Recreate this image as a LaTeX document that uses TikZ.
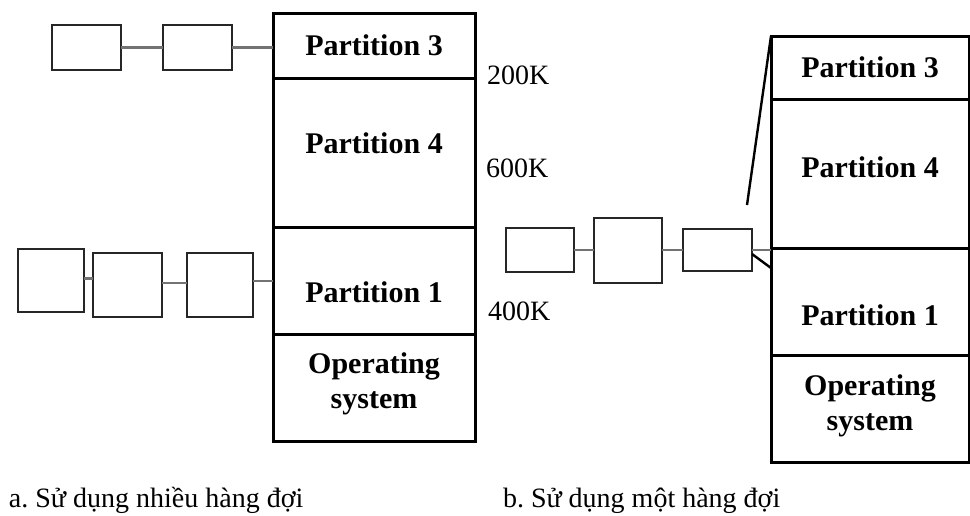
\documentclass[tikz,border=0pt]{standalone}
\usepackage{fontspec}
\setmainfont{Liberation Serif}
\usetikzlibrary{positioning}
\frenchspacing

\begin{document}
\begin{tikzpicture}[x=0.5pt, y=-0.5pt,
                    every node/.style = {text=black, inner sep=0pt, outer sep=0pt},
                    part/.style = {draw, line width=1.5pt},
                    ptext/.style = {align=center, font=\fontsize{15}{17.5}\selectfont\bfseries},
                    job/.style = {draw=black!85, line width=1pt},
                    link/.style = {draw=black!55, line width=1.1pt},
                    addr/.style = {anchor=west, font=\fontsize{14}{16}\selectfont},
                    capt/.style = {anchor=base west, font=\fontsize{14}{16}\selectfont}]
                \useasboundingbox (0,0) rectangle (970,515);
                % a. several queues
                \node (p3a) [part, minimum width=101pt, minimum height=32.5pt] at (374,45.5) {};
                \node (p4a) [part, minimum width=101pt, minimum height=74.5pt, below = 0pt of p3a] {};
                \node (p1a) [part, minimum width=101pt, minimum height=53.5pt, below = 0pt of p4a] {};
                \node (osa) [part, minimum width=101pt, minimum height=53.5pt, below = 0pt of p1a] {};
                \node (t3a) [ptext] at (p3a) {Partition 3};
                \node (t4a) [ptext, yshift=4.75pt] at (p4a) {Partition 4};
                \node (t1a) [ptext, yshift=-6pt] at (p1a) {Partition 1};
                \node (tosa) [ptext, yshift=2pt] at (osa) {Operating\\system};
                \node (qa1) [job, minimum width=34.5pt, minimum height=22.5pt] at (86.5,47.5) {};
                \node (qa2) [job, minimum width=34.5pt, minimum height=22.5pt, right = 21pt of qa1] {};
                \node (qb1) [job, minimum width=33pt, minimum height=31.5pt] at (51,280.5) {};
                \node (qb2) [job, minimum width=34.5pt, minimum height=32pt, right = 4.5pt of qb1, yshift=-2.25pt] {};
                \node (qb3) [job, minimum width=33pt, minimum height=32pt, right = 12.5pt of qb2] {};
                \draw [link] (qa1.east) -- (qa2.west);
                \draw [link] (qa2.east) -- (qa2.east -| p3a.west);
                \draw [link] ([yshift=1pt]qb1.east) -- ([yshift=1pt]qb1.east -| qb2.west);
                \draw [link] ([yshift=1pt]qb2.east) -- ([yshift=1pt]qb3.west);
                \draw [link] ([yshift=2pt]qb3.east) -- ([yshift=2pt]qb3.east -| p1a.west);
                \node (k200) [addr] at (487,75) {200K};
                \node (k600) [addr] at (486,168) {600K};
                \node (k400) [addr] at (488,311) {400K};
                % b. one queue
                \node (p3b) [part, minimum width=99pt, minimum height=31.5pt] at (870,67.5) {};
                \node (p4b) [part, minimum width=99pt, minimum height=74.5pt, below = 0pt of p3b] {};
                \node (p1b) [part, minimum width=99pt, minimum height=53.5pt, below = 0pt of p4b] {};
                \node (osb) [part, minimum width=99pt, minimum height=53.5pt, below = 0pt of p1b] {};
                \node (t3b) [ptext] at (p3b) {Partition 3};
                \node (t4b) [ptext, yshift=3pt] at (p4b) {Partition 4};
                \node (t1b) [ptext, yshift=-7pt] at (p1b) {Partition 1};
                \node (tosb) [ptext, yshift=1.5pt] at (osb) {Operating\\system};
                \node (qc1) [job, minimum width=34pt, minimum height=22pt] at (540,250) {};
                \node (qc2) [job, minimum width=34pt, minimum height=32.5pt, right = 10pt of qc1] {};
                \node (qc3) [job, minimum width=34.5pt, minimum height=21pt, right = 10.5pt of qc2] {};
                \draw [link] (qc1.east) -- (qc2.west);
                \draw [link] (qc2.east) -- (qc3.west);
                \draw [link] (qc3.east) -- (qc3.east -| p1b.west);
                \coordinate (hook) at (747,205);
                \draw [line width=1.2pt] (hook) -- (p3b.north west);
                \draw [line width=1.2pt] ([yshift=-2pt]qc3.east) -- ([yshift=-10pt]p1b.north west);
                \node (capa) [capt] at (9,507) {a. Sử dụng nhiều hàng đợi};
                \node (capb) [capt] at (503,507) {b. Sử dụng một hàng đợi};
            \end{tikzpicture}
\end{document}
